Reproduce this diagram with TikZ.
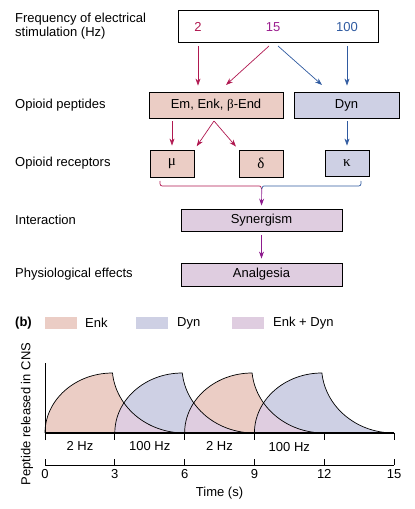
\documentclass[tikz,border=0pt]{standalone}
\usepackage{fontspec}
\setmainfont{Liberation Sans}
\newfontfamily\greekfont{Liberation Serif}
\usetikzlibrary{arrows.meta, positioning, calc}
\definecolor{crim}{RGB}{176,24,80}
\definecolor{purp}{RGB}{142,27,142}
\definecolor{numpurp}{RGB}{155,31,143}
\definecolor{bluec}{RGB}{47,90,160}
\definecolor{enkfill}{RGB}{235,205,197}
\definecolor{dynfill}{RGB}{206,208,228}
\definecolor{bothfill}{RGB}{223,205,224}

\begin{document}
\begin{tikzpicture}[x=1pt, y=-1pt,
  every node/.style={font=\fontsize{13}{14.5}\selectfont, inner sep=0pt},
  box/.style={rectangle, draw=black, line width=0.9pt, align=center},
  greek/.style={font=\fontsize{15}{16}\selectfont\greekfont},
  side/.style={anchor=west, align=left},
  arr/.style={-{Stealth[length=7pt, width=5pt]}, line width=0.7pt},
  swatch/.style={rectangle, minimum width=32pt, minimum height=12pt},
  curve/.style={line width=0.7pt, black}
]
\useasboundingbox (0,0) rectangle (415,509);

% (a) cascade
\node[side] (lfreq) at (15,26) {Frequency of electrical\\stimulation (Hz)};
\node[side] (lpep) at (15,105) {Opioid peptides};
\node[side] (lrec) at (15,163) {Opioid receptors};
\node[side] (lint) at (15,220) {Interaction};
\node[side] (leff) at (15,274) {Physiological effects};

\node[box, minimum width=200pt, minimum height=32pt] (top) at (278,26) {};
\node[text=crim] (n2) at (198,27) {2};
\node[text=numpurp] (n15) at (273,27) {15};
\node[text=bluec] (n100) at (347,27) {100};

\node[box, fill=enkfill, minimum width=134pt, minimum height=26pt] (pep) at (216,105)
  {Em, Enk, {\greekfont β}-End};
\node[box, fill=dynfill, minimum width=105pt, minimum height=26pt] (dyn) at (346.5,105) {Dyn};

\node[box, greek, fill=enkfill, minimum width=44pt, minimum height=27pt] (mu) at (172,163.5) {μ};
\node[box, greek, fill=enkfill, minimum width=44pt, minimum height=27pt] (delta) at (261,163.5) {δ};
\node[box, greek, fill=dynfill, minimum width=44pt, minimum height=26pt] (kappa) at (347,163) {κ};

\node[box, fill=bothfill, minimum width=161pt, minimum height=22pt] (syn) at (261.5,220) {Synergism};
\node[box, fill=bothfill, minimum width=161pt, minimum height=23pt] (ana) at (261.5,274.5) {Analgesia};

\coordinate (s15a) at (269,46);
\coordinate (e15a) at (226,85);
\coordinate (s15b) at (278,46);
\coordinate (e15b) at (322,85);
\coordinate (fork) at (214,121);
\coordinate (tip) at (261.7,189);

\draw[arr, crim, shorten <=4pt, shorten >=6pt] (n2 |- top.south) -- (n2 |- pep.north);
\draw[arr, crim] (s15a) -- (e15a);
\draw[arr, bluec] (s15b) -- (e15b);
\draw[arr, bluec, shorten <=4pt, shorten >=6pt] (n100 |- top.south) -- (n100 |- dyn.north);

\draw[arr, crim, shorten <=3pt, shorten >=4pt] (mu.north |- pep.south) -- (mu.north);
\draw[arr, crim, shorten >=4pt] (fork) -- (mu.north east);
\draw[arr, crim, shorten >=4pt] (fork) -- (delta.north west);
\draw[arr, bluec, shorten <=3pt, shorten >=4pt] (kappa.north |- dyn.south) -- (kappa.north);

% brace under the receptors
\draw[crim, line width=0.7pt] (160,181) .. controls (160,186) .. (165,186) -- (257,186)
  .. controls (261,186) .. (tip);
\draw[bluec, line width=0.7pt] (tip) .. controls (262.5,186) .. (266,186) -- (356,186)
  .. controls (361,186) .. (361,181);
\draw[arr, purp, shorten >=3pt] (tip) -- (syn.north);
\draw[arr, purp, shorten <=4pt, shorten >=4pt] (syn.south) -- (ana.north);

% (b) legend
\node[side, font=\fontsize{13}{14.5}\selectfont\bfseries] (lb) at (15,323) {(b)};
\node[swatch, fill=enkfill] (senk) at (61,323) {};
\node[side] (tenk) at (85,323) {Enk};
\node[swatch, fill=dynfill] (sdyn) at (152,323) {};
\node[side] (tdyn) at (177,323) {Dyn};
\node[swatch, fill=bothfill] (sboth) at (247.5,323) {};
\node[side] (tboth) at (273,323) {Enk + Dyn};

\node[rotate=90] (ylab) at (27,414) {Peptide released in CNS};

% (b) release curves
\begin{scope}[shift={(45,433)}, x=23.27pt, y=1pt]
\def\pulse#1{(#1,0) .. controls (#1,33.1) and (#1+1.3,60) .. (#1+2.9,60)
  .. controls (#1+3.05,26.9) and (#1+4.344,0) .. (#1+6,0)}
\fill[enkfill] \pulse{0} -- cycle;
\fill[dynfill] \pulse{3} -- cycle;
\fill[enkfill] \pulse{6} -- cycle;
\fill[dynfill] \pulse{9} -- cycle;
\foreach \a/\b in {0/3, 3/6, 6/9} {
  \begin{scope}
    \clip \pulse{\a} -- cycle;
    \fill[bothfill] \pulse{\b} -- cycle;
  \end{scope}
}
\foreach \s in {0,3,6,9}
  \draw[curve] \pulse{\s};

\draw[line width=0.7pt] (0,-7) -- (0,70);
\draw[line width=1.4pt] (0,0) -- (15,0);
\foreach \t in {3,6,...,15}
  \draw[line width=0.7pt] (\t,0) -- (\t,-7);

\node (hz1) at (1.5,-12.7) {2 Hz};
\node (hz2) at (4.5,-12.7) {100 Hz};
\node (hz3) at (7.5,-12.7) {2 Hz};
\node (hz4) at (10.5,-13.7) {100 Hz};

\draw[line width=0.7pt] (0,-32) -- (15,-32);
\foreach \t in {0,3,...,15} {
  \draw[line width=0.7pt] (\t,-32) -- (\t,-26);
  \node (tk\t) at (\t,-41) {\t};
}
\node (tlab) at (7.5,-60) {Time (s)};
\end{scope}
\end{tikzpicture}
\end{document}
